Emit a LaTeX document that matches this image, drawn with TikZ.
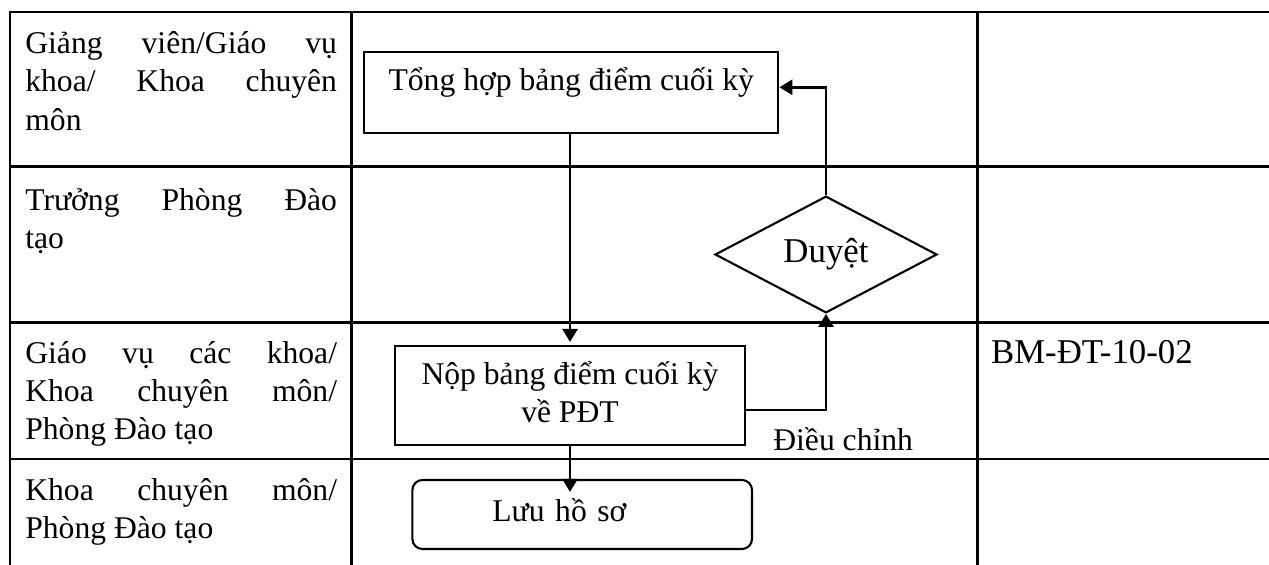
\documentclass[tikz,border=0pt]{standalone}
\usepackage{fontspec}
\setmainfont{Liberation Serif}
\usetikzlibrary{arrows.meta,shapes.geometric}

\newdimen\pxu \pxu=0.02cm
\newcommand\flowfont{\fontsize{18pt}{21.8pt}\selectfont}
\newcommand\bigflowfont{\fontsize{19.8pt}{24pt}\selectfont}

\begin{document}
\begin{tikzpicture}[x=0.02cm, y=-0.02cm,
  every node/.style={font=\flowfont, inner sep=0pt},
  grid/.style={line width=1.7pt, line cap=rect},
  lane/.style={anchor=north west, text width=311.7\pxu, align=justify},
  stepbox/.style={draw, line width=1.2pt},
  flow/.style={line width=1.6pt, -{Triangle[length=7.4pt,width=8.5pt]}}]
  \useasboundingbox (0,0) rectangle (1269,565);

  % table
  \foreach \y in {12,166.7,322.7,459}
    \draw[grid] (10,\y) -- (1269,\y);
  \foreach \x in {10,351.7,977}
    \draw[grid] (\x,12) -- (\x,565);

  % lanes
  \node[lane] (lane1) at (25,26.5) {\strut Giảng viên/Giáo vụ\linebreak khoa/ Khoa chuyên\linebreak môn};
  \node[lane] (lane2) at (25,183.2) {\strut Trưởng Phòng Đào\linebreak tạo};
  \node[lane] (lane3) at (25,336.2) {\strut Giáo vụ các khoa/\linebreak Khoa chuyên môn/\linebreak Phòng Đào tạo};
  \node[lane] (lane4) at (25,473.2) {\strut Khoa chuyên môn/\linebreak Phòng Đào tạo};

  % steps
  \node[stepbox, minimum width=414\pxu, minimum height=81.3\pxu,
        text height=12pt, text depth=14.4pt] (sum) at (571.3,92.7) {Tổng hợp bảng điểm cuối kỳ};
  \node[draw, diamond, line width=1.2pt, minimum width=222\pxu,
        minimum height=112.4\pxu, font=\bigflowfont] (check) at (826,254.5) {Duyệt};
  \node[stepbox, minimum width=349.4\pxu, minimum height=99\pxu,
        align=center] (submit) at (570,395.5) {\strut Nộp bảng điểm cuối kỳ\\về PĐT\strut};
  \node[stepbox, rounded corners=10\pxu, minimum width=339.6\pxu, minimum height=69\pxu,
        text width=339.6\pxu, align=left, text height=12pt, text depth=3.5pt]
        (save) at (582.2,514.5) {\hspace*{80\pxu}Lưu hồ sơ};

  % labels
  \node[anchor=base west] (adjust) at (773,450) {Điều chỉnh};
  \node[anchor=base west, font=\bigflowfont] (form) at (990.7,363.3) {BM-ĐT-10-02};

  % arrows
  \draw[flow, shorten >=3\pxu] (submit.north |- sum.south) -- (submit.north);
  \draw[flow, shorten >=-13\pxu] (submit.south) -- (submit.south |- save.north);
  \draw[flow] ([yshift=-14.5\pxu]submit.east) -| (check.south);
  \draw[flow] (check.north) |- ([yshift=5.4\pxu]sum.east);
\end{tikzpicture}
\end{document}
